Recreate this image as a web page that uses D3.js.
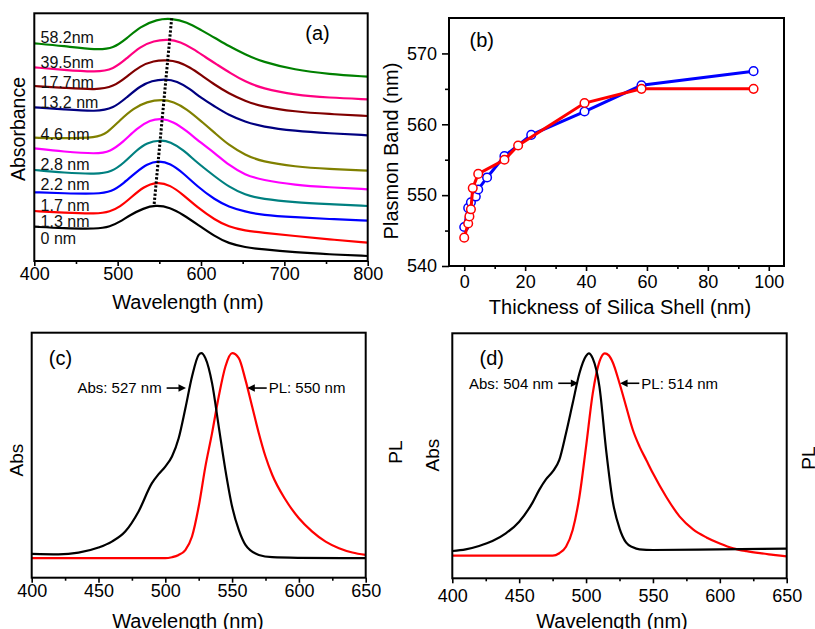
<!DOCTYPE html>
<html>
<head>
<meta charset="utf-8">
<script src="https://cdn.jsdelivr.net/npm/d3@7"></script>
<style>
    body { margin: 0; background: #fff; }
    svg { display: block; font-family: "Liberation Sans", Arial, Helvetica, sans-serif; }
</style>
</head>
<body>
<svg id="fig" width="815" height="629"></svg>
<script>
// ---- (a) absorbance spectra, [wavelength (nm), absorbance (a.u., offset)] ----
const spec0 = [[400, 0.343], [435, 0.327], [475, 0.32], [491, 0.343], [503, 0.393], [515, 0.46], [531, 0.527], [545, 0.56], [563, 0.537], [579, 0.46], [595, 0.37], [617, 0.243], [633, 0.177], [653, 0.137], [673, 0.117], [713, 0.087], [753, 0.067], [800, 0.05]];
const spec13 = [[400, 0.5], [435, 0.483], [475, 0.47], [491, 0.493], [503, 0.543], [515, 0.627], [531, 0.743], [547, 0.793], [563, 0.76], [579, 0.66], [595, 0.54], [617, 0.41], [633, 0.343], [653, 0.303], [673, 0.283], [713, 0.25], [753, 0.217], [800, 0.183]];
const spec17 = [[400, 0.687], [435, 0.677], [475, 0.67], [493, 0.693], [507, 0.777], [523, 0.893], [535, 0.97], [549, 1.003], [563, 0.977], [579, 0.877], [595, 0.75], [617, 0.61], [633, 0.543], [653, 0.493], [673, 0.46], [713, 0.437], [753, 0.42], [800, 0.403]];
const spec22 = [[400, 0.91], [435, 0.883], [475, 0.867], [493, 0.893], [507, 0.977], [523, 1.11], [535, 1.183], [551, 1.21], [563, 1.193], [579, 1.11], [595, 0.985], [617, 0.843], [633, 0.743], [653, 0.66], [673, 0.62], [713, 0.587], [753, 0.57], [800, 0.55]];
const spec28 = [[400, 1.127], [435, 1.093], [475, 1.07], [491, 1.093], [507, 1.193], [523, 1.327], [539, 1.41], [553, 1.427], [567, 1.393], [583, 1.3], [600, 1.18], [617, 1.077], [633, 0.96], [653, 0.86], [673, 0.81], [713, 0.76], [753, 0.737], [800, 0.717]];
const spec46 = [[400, 1.233], [435, 1.227], [475, 1.233], [487, 1.277], [503, 1.41], [519, 1.527], [535, 1.593], [553, 1.617], [567, 1.593], [583, 1.52], [600, 1.4], [617, 1.277], [633, 1.16], [653, 1.06], [673, 0.993], [713, 0.943], [753, 0.92], [800, 0.903]];
const spec132 = [[400, 1.537], [435, 1.517], [475, 1.493], [495, 1.527], [511, 1.637], [527, 1.75], [541, 1.803], [557, 1.82], [571, 1.8], [587, 1.72], [600, 1.63], [617, 1.543], [633, 1.46], [653, 1.393], [673, 1.343], [713, 1.3], [753, 1.277], [800, 1.257]];
const spec177 = [[400, 1.75], [435, 1.733], [475, 1.71], [495, 1.743], [511, 1.843], [527, 1.95], [543, 2.003], [559, 2.01], [573, 1.993], [587, 1.935], [600, 1.86], [617, 1.76], [633, 1.677], [653, 1.6], [673, 1.543], [713, 1.493], [753, 1.47], [800, 1.45]];
const spec395 = [[400, 1.937], [435, 1.91], [475, 1.887], [495, 1.917], [511, 2.027], [527, 2.143], [543, 2.203], [561, 2.217], [575, 2.193], [591, 2.12], [605, 2.04], [620, 1.96], [635, 1.88], [653, 1.793], [673, 1.727], [713, 1.66], [753, 1.633], [800, 1.617]];
const spec582 = [[400, 2.177], [435, 2.15], [475, 2.11], [495, 2.127], [511, 2.227], [527, 2.343], [547, 2.417], [565, 2.427], [583, 2.39], [600, 2.31], [617, 2.23], [633, 2.15], [653, 2.065], [673, 1.993], [713, 1.91], [753, 1.87], [800, 1.843]];

const spectra = [spec0, spec13, spec17, spec22, spec28, spec46, spec132, spec177, spec395, spec582];
const shellLabels = ["0 nm", "1.3 nm", "1.7 nm", "2.2 nm", "2.8 nm", "4.6 nm", "13.2 nm", "17.7nm", "39.5nm", "58.2nm"];
const labelAbs = [0.227, 0.393, 0.553, 0.77, 0.97, 1.27, 1.587, 1.783, 1.983, 2.237];
const shellColors = ["#000000", "#ff0000", "#0000ff", "#008080", "#ff00ff", "#808000", "#000080", "#800000", "#ff0080", "#008000"];
const peakTrend = [[543.8, 0.57], [564.8, 2.427]];

// ---- (b) plasmon band vs shell thickness ----
const thickBlue = [0, 1.3, 2.2, 3.8, 4.6, 7.5, 13.2, 22, 39.5, 58.2, 95];
const bandBlue = [545.5, 548.2, 549, 549.8, 550.8, 552.5, 555.5, 558.5, 561.8, 565.5, 567.5];
const thickRed = [0, 1.3, 1.7, 2.2, 2.8, 4.6, 13.2, 17.7, 39.5, 58.2, 95];
const bandRed = [544, 546, 547, 548, 551, 553, 555, 557, 563, 565, 565];

// ---- (c) Abs / PL, normalised ----
const absC = [[400, 0.021], [420, 0.019], [435, 0.027], [450, 0.052], [460, 0.081], [470, 0.13], [480, 0.228], [490, 0.366], [495, 0.41], [500, 0.447], [505, 0.496], [510, 0.585], [515, 0.73], [520, 0.886], [525, 0.992], [527, 1.0], [530, 0.976], [535, 0.854], [540, 0.642], [545, 0.43], [550, 0.252], [555, 0.138], [560, 0.065], [570, 0.016], [580, 0.005], [600, 0.002], [650, 0.0]];
const plC = [[400, 0], [500, 0], [505, 0.005], [510, 0.016], [515, 0.04], [520, 0.106], [525, 0.252], [530, 0.447], [535, 0.61], [540, 0.789], [545, 0.935], [550, 1.0], [555, 0.976], [560, 0.87], [565, 0.74], [570, 0.61], [575, 0.496], [580, 0.407], [590, 0.285], [600, 0.195], [610, 0.13], [620, 0.081], [630, 0.049], [640, 0.028], [650, 0.016]];

// ---- (d) Abs / PL, normalised ----
const absD = [[400, 0.023], [410, 0.031], [420, 0.048], [430, 0.072], [440, 0.11], [450, 0.168], [460, 0.262], [465, 0.325], [470, 0.377], [475, 0.415], [480, 0.473], [485, 0.605], [490, 0.753], [495, 0.9], [500, 0.987], [502, 1.0], [505, 0.975], [510, 0.835], [515, 0.522], [520, 0.267], [525, 0.135], [530, 0.064], [535, 0.041], [540, 0.031], [550, 0.028], [600, 0.031], [650, 0.035]];
const plD = [[400, 0], [475, 0], [480, 0.012], [485, 0.044], [490, 0.127], [495, 0.29], [500, 0.539], [505, 0.802], [510, 0.959], [514, 1.0], [517, 0.99], [520, 0.955], [525, 0.852], [530, 0.736], [535, 0.621], [540, 0.539], [545, 0.473], [550, 0.407], [560, 0.29], [570, 0.193], [580, 0.13], [590, 0.09], [600, 0.06], [610, 0.036], [620, 0.022], [630, 0.012], [640, 0.004], [650, -0.004]];

// peak call-outs: [text, tip wavelength, tip value, tail wavelength]
const calloutsC = [["Abs: 527 nm", 515.5, 0.83, 501.0], ["PL: 550 nm", 561.4, 0.83, 575.9]];
const calloutsD = [["Abs: 504 nm", 494.2, 0.852, 479.2], ["PL: 514 nm", 525.4, 0.852, 539.8]];

const svg = d3.select("#fig");

function frame(box) {
    svg.append("rect")
        .attr("x", box.left)
        .attr("y", box.top)
        .attr("width", box.right - box.left)
        .attr("height", box.bottom - box.top)
        .attr("fill", "none")
        .attr("stroke", "#000")
        .attr("stroke-width", 2);
}

function styleAxis(g) {
    g.attr("font-family", null).attr("font-size", null);
    g.select(".domain").remove();
    g.selectAll("line").attr("stroke", "#000").attr("stroke-width", 1.6);
    g.selectAll("text").attr("fill", "#000").style("font-size", "18px");
}

function xAxis(x, box, major, minor, pad) {
    let g = svg.append("g").attr("transform", `translate(0, ${box.bottom})`);
    g.call(d3.axisBottom(x).tickValues(major).tickSize(5).tickSizeOuter(0).tickPadding(pad).tickFormat(d3.format("d")));
    styleAxis(g);
    let m = svg.append("g").attr("transform", `translate(0, ${box.bottom})`);
    m.call(d3.axisBottom(x).tickValues(minor).tickSize(3).tickSizeOuter(0).tickFormat(""));
    styleAxis(m);
}

function title(txt, x, y, rotate, size) {
    svg.append("text")
        .attr("text-anchor", "middle")
        .attr("transform", `translate(${x}, ${y})` + (rotate ? " rotate(-90)" : ""))
        .style("font-size", size + "px")
        .attr("fill", "#000")
        .text(txt);
}

// ================= (a) =================
const boxA = { left: 34.3, right: 367.7, top: 13.3, bottom: 261 };
const xA = d3.scaleLinear().domain([400, 800]).range([boxA.left, boxA.right]);
const yA = d3.scaleLinear().domain([0, 2.477]).range([boxA.bottom, boxA.top]);
const lineA = d3.line().x(d => xA(d[0])).y(d => yA(d[1])).curve(d3.curveBasis);

svg.append("g").selectAll("path")
    .data(spectra)
    .join("path")
    .attr("d", lineA)
    .attr("fill", "none")
    .attr("stroke", (d, i) => shellColors[i])
    .attr("stroke-width", 2.2);

svg.append("path")
    .attr("d", d3.line().x(d => xA(d[0])).y(d => yA(d[1]))(peakTrend))
    .attr("stroke", "#000")
    .attr("stroke-width", 3)
    .attr("stroke-dasharray", "2.3,1.8");

svg.append("g").selectAll("text")
    .data(shellLabels)
    .join("text")
    .attr("x", xA(407.5))
    .attr("y", (d, i) => yA(labelAbs[i]) + 5.7)
    .style("font-size", "16px")
    .attr("fill", "#111")
    .text(d => d);

frame(boxA);
xAxis(xA, boxA, [400, 500, 600, 700, 800], [450, 550, 650, 750], 1.5);
title("Wavelength (nm)", 188, 309, false, 20);
title("Absorbance", 25, 129, true, 19.5);
title("(a)", 317.5, 39.5, false, 20);

// ================= (b) =================
const boxB = { left: 449, right: 784, top: 18, bottom: 266 };
const xB = d3.scaleLinear().domain([-5, 105]).range([boxB.left, boxB.right]);
const yB = d3.scaleLinear().domain([540, 575]).range([boxB.bottom, boxB.top]);

const seriesB = [
    { t: thickBlue, v: bandBlue, color: "#0000ff" },
    { t: thickRed, v: bandRed, color: "#ff0000" }
];
seriesB.forEach(s => {
    let pts = s.t.map((t, i) => [t, s.v[i]]);
    svg.append("path")
        .attr("d", d3.line().x(d => xB(d[0])).y(d => yB(d[1]))(pts))
        .attr("fill", "none")
        .attr("stroke", s.color)
        .attr("stroke-width", 3);
    svg.append("g").selectAll("circle")
        .data(pts)
        .join("circle")
        .attr("cx", d => xB(d[0]))
        .attr("cy", d => yB(d[1]))
        .attr("r", 4.3)
        .attr("fill", "#fff")
        .attr("stroke", s.color)
        .attr("stroke-width", 1.5);
});

frame(boxB);
xAxis(xB, boxB, [0, 20, 40, 60, 80, 100], [10, 30, 50, 70, 90], 4);
let gyB = svg.append("g").attr("transform", `translate(${boxB.left}, 0)`);
gyB.call(d3.axisLeft(yB).tickValues([540, 550, 560, 570]).tickSize(7).tickSizeOuter(0).tickPadding(5));
styleAxis(gyB);
let myB = svg.append("g").attr("transform", `translate(${boxB.left}, 0)`);
myB.call(d3.axisLeft(yB).tickValues([545, 555, 565]).tickSize(4).tickSizeOuter(0).tickFormat(""));
styleAxis(myB);
title("Thickness of Silica Shell (nm)", 620, 313.5, false, 20);
title("Plasmon Band (nm)", 397.5, 151, true, 20);
title("(b)", 481.7, 47, false, 20);

// ================= (c) and (d) =================
function spectrumPanel(box, yDomain, abs, pl, callouts, padX, labels) {
    let x = d3.scaleLinear().domain([400, 650]).range([box.left, box.right]);
    let y = d3.scaleLinear().domain(yDomain).range([box.bottom, box.top]);
    let line = d3.line().x(d => x(d[0])).y(d => y(d[1])).curve(d3.curveMonotoneX);

    svg.append("path").attr("d", line(pl))
        .attr("fill", "none").attr("stroke", "#ff0000").attr("stroke-width", 2.2);
    svg.append("path").attr("d", line(abs))
        .attr("fill", "none").attr("stroke", "#000").attr("stroke-width", 2.2);

    callouts.forEach(c => {
        let [txt, tipWl, val, tailWl] = c;
        let tx = x(tipWl), ty = y(val), sx = x(tailWl);
        let dir = tx > sx ? 1 : -1;
        svg.append("line")
            .attr("x1", sx).attr("y1", ty)
            .attr("x2", tx - dir * 5).attr("y2", ty)
            .attr("stroke", "#000").attr("stroke-width", 1.6);
        svg.append("path")
            .attr("d", `M${tx},${ty} L${tx - dir * 7.5},${ty - 3.8} L${tx - dir * 7.5},${ty + 3.8} Z`)
            .attr("fill", "#000");
        svg.append("text")
            .attr("x", dir > 0 ? sx - 5 : sx + 2)
            .attr("y", ty + 5.4)
            .attr("text-anchor", dir > 0 ? "end" : "start")
            .style("font-size", "15px")
            .attr("fill", "#000")
            .text(txt);
    });

    frame(box);
    xAxis(x, box, [400, 450, 500, 550, 600, 650], [425, 475, 525, 575, 625], padX);
    title("Wavelength (nm)", labels.titleX, 627.5, false, 20);
    title("Abs", labels.absX, labels.absY, true, 19);
    title("PL", labels.plX, labels.plY, true, 19);
    title(labels.tag, labels.tagX, 364.5, false, 20);
}

spectrumPanel({ left: 31.7, right: 365.7, top: 332.7, bottom: 577.7 }, [-0.095, 1.1], absC, plC, calloutsC, 1.5,
    { titleX: 188, absX: 22.7, absY: 460, plX: 401.7, plY: 452, tag: "(c)", tagX: 60.5 });
spectrumPanel({ left: 452.3, right: 786.7, top: 333.3, bottom: 578.3 }, [-0.112, 1.099], absD, plD, calloutsD, 5.5,
    { titleX: 612, absX: 439.3, absY: 455, plX: 815.3, plY: 458, tag: "(d)", tagX: 491.7 });
</script>
</body>
</html>
